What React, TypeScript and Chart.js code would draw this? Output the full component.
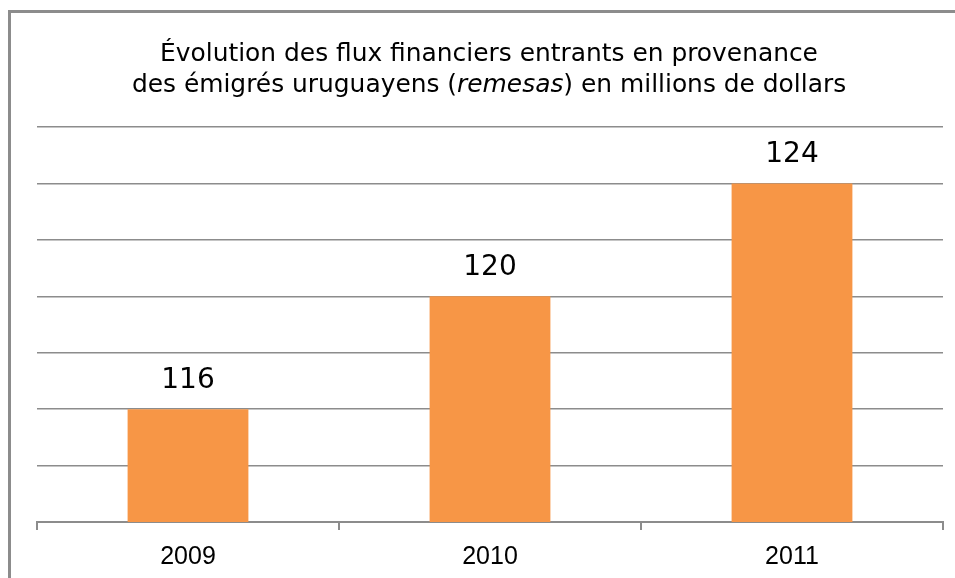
import { useEffect, useRef } from "react";
import { Chart, registerables } from "chart.js";

Chart.register(...registerables);

const categories = ["2009", "2010", "2011"];
const values = [116, 120, 124];
const titleLine1 = "Évolution des flux financiers entrants en provenance";
const titleLine2 = [
  { text: "des émigrés uruguayens (", italic: false },
  { text: "remesas", italic: true },
  { text: ") en millions de dollars", italic: false },
];
const yMin = 112;
const yMax = 126;
const yStep = 2;

const GRID = "#8c8c8c";
const BAR = "#F79646";
const TITLE_FONT = "'DejaVu Sans'";
const TITLE_WIDTH = 658;
const CANVAS_H = 586;

const decorPlugin = {
  id: "decor",
  beforeDraw(chart: any) {
    const ctx = chart.ctx;
    ctx.save();
    ctx.fillStyle = "#ffffff";
    ctx.fillRect(0, 0, chart.width, chart.height);
    ctx.fillStyle = GRID;
    ctx.fillRect(8, 10, 3, chart.height - 10);
    ctx.fillRect(8, 10, chart.width - 8, 3);
    ctx.restore();
  },
  afterDraw(chart: any) {
    const ctx = chart.ctx;
    const cx = 489;
    ctx.save();
    ctx.fillStyle = "#000000";
    ctx.textBaseline = "alphabetic";
    ctx.textAlign = "left";
    ctx.font = `20px ${TITLE_FONT}`;
    const base = ctx.measureText(titleLine1).width;
    const size = Math.round((20 * TITLE_WIDTH / base) * 10) / 10;
    ctx.font = `${size}px ${TITLE_FONT}`;
    const w1 = ctx.measureText(titleLine1).width;
    ctx.fillText(titleLine1, cx - w1 / 2, 61);
    const fonts = titleLine2.map((s) =>
      `${s.italic ? "italic " : ""}${size}px ${TITLE_FONT}`
    );
    let total = 0;
    const widths = titleLine2.map((s, i) => {
      ctx.font = fonts[i];
      const w = ctx.measureText(s.text).width;
      total += w;
      return w;
    });
    let x = cx - total / 2;
    titleLine2.forEach((s, i) => {
      ctx.font = fonts[i];
      ctx.fillText(s.text, x, 92);
      x += widths[i];
    });
    ctx.restore();
  },
  afterDatasetsDraw(chart: any) {
    const ctx = chart.ctx;
    const meta = chart.getDatasetMeta(0);
    ctx.save();
    ctx.fillStyle = "#000000";
    ctx.font = "28px 'DejaVu Sans'";
    ctx.textAlign = "center";
    ctx.textBaseline = "alphabetic";
    meta.data.forEach((bar: any, i: number) => {
      ctx.fillText(String(values[i]), bar.x, bar.y - 21);
    });
    ctx.restore();
  },
};

export default function App() {
  const ref = useRef<HTMLCanvasElement>(null);
  useEffect(() => {
    if (!ref.current) return;
    const chart = new Chart(ref.current, {
      type: "bar",
      data: {
        labels: categories,
        datasets: [
          {
            data: values,
            backgroundColor: BAR,
            borderWidth: 0,
            barPercentage: 0.4,
            categoryPercentage: 1,
          },
        ],
      },
      options: {
        responsive: false,
        animation: false,
        layout: { padding: { left: 37, right: 12, top: 127, bottom: 2 } },
        plugins: {
          legend: { display: false },
          title: { display: false },
          tooltip: { enabled: false },
        },
        scales: {
          x: {
            grid: {
              offset: true,
              drawOnChartArea: false,
              drawTicks: true,
              tickLength: 8,
              color: GRID,
              lineWidth: 2,
            },
            border: { display: true, color: GRID, width: 2 },
            ticks: {
              color: "#000000",
              font: { family: "'Liberation Sans'", size: 25 },
              padding: 12,
            },
          },
          y: {
            min: yMin,
            max: yMax,
            ticks: { display: false, stepSize: yStep },
            grid: { color: GRID, lineWidth: 1.5, drawTicks: false },
            border: { display: false },
          },
        },
      },
      plugins: [decorPlugin],
    });
    return () => chart.destroy();
  }, []);
  return (
    <div style={{ position: "fixed", left: 0, top: 0, width: 955, height: 578, overflow: "hidden", background: "#fff" }}>
      <canvas ref={ref} width={955} height={CANVAS_H} style={{ display: "block" }} />
    </div>
  );
}
